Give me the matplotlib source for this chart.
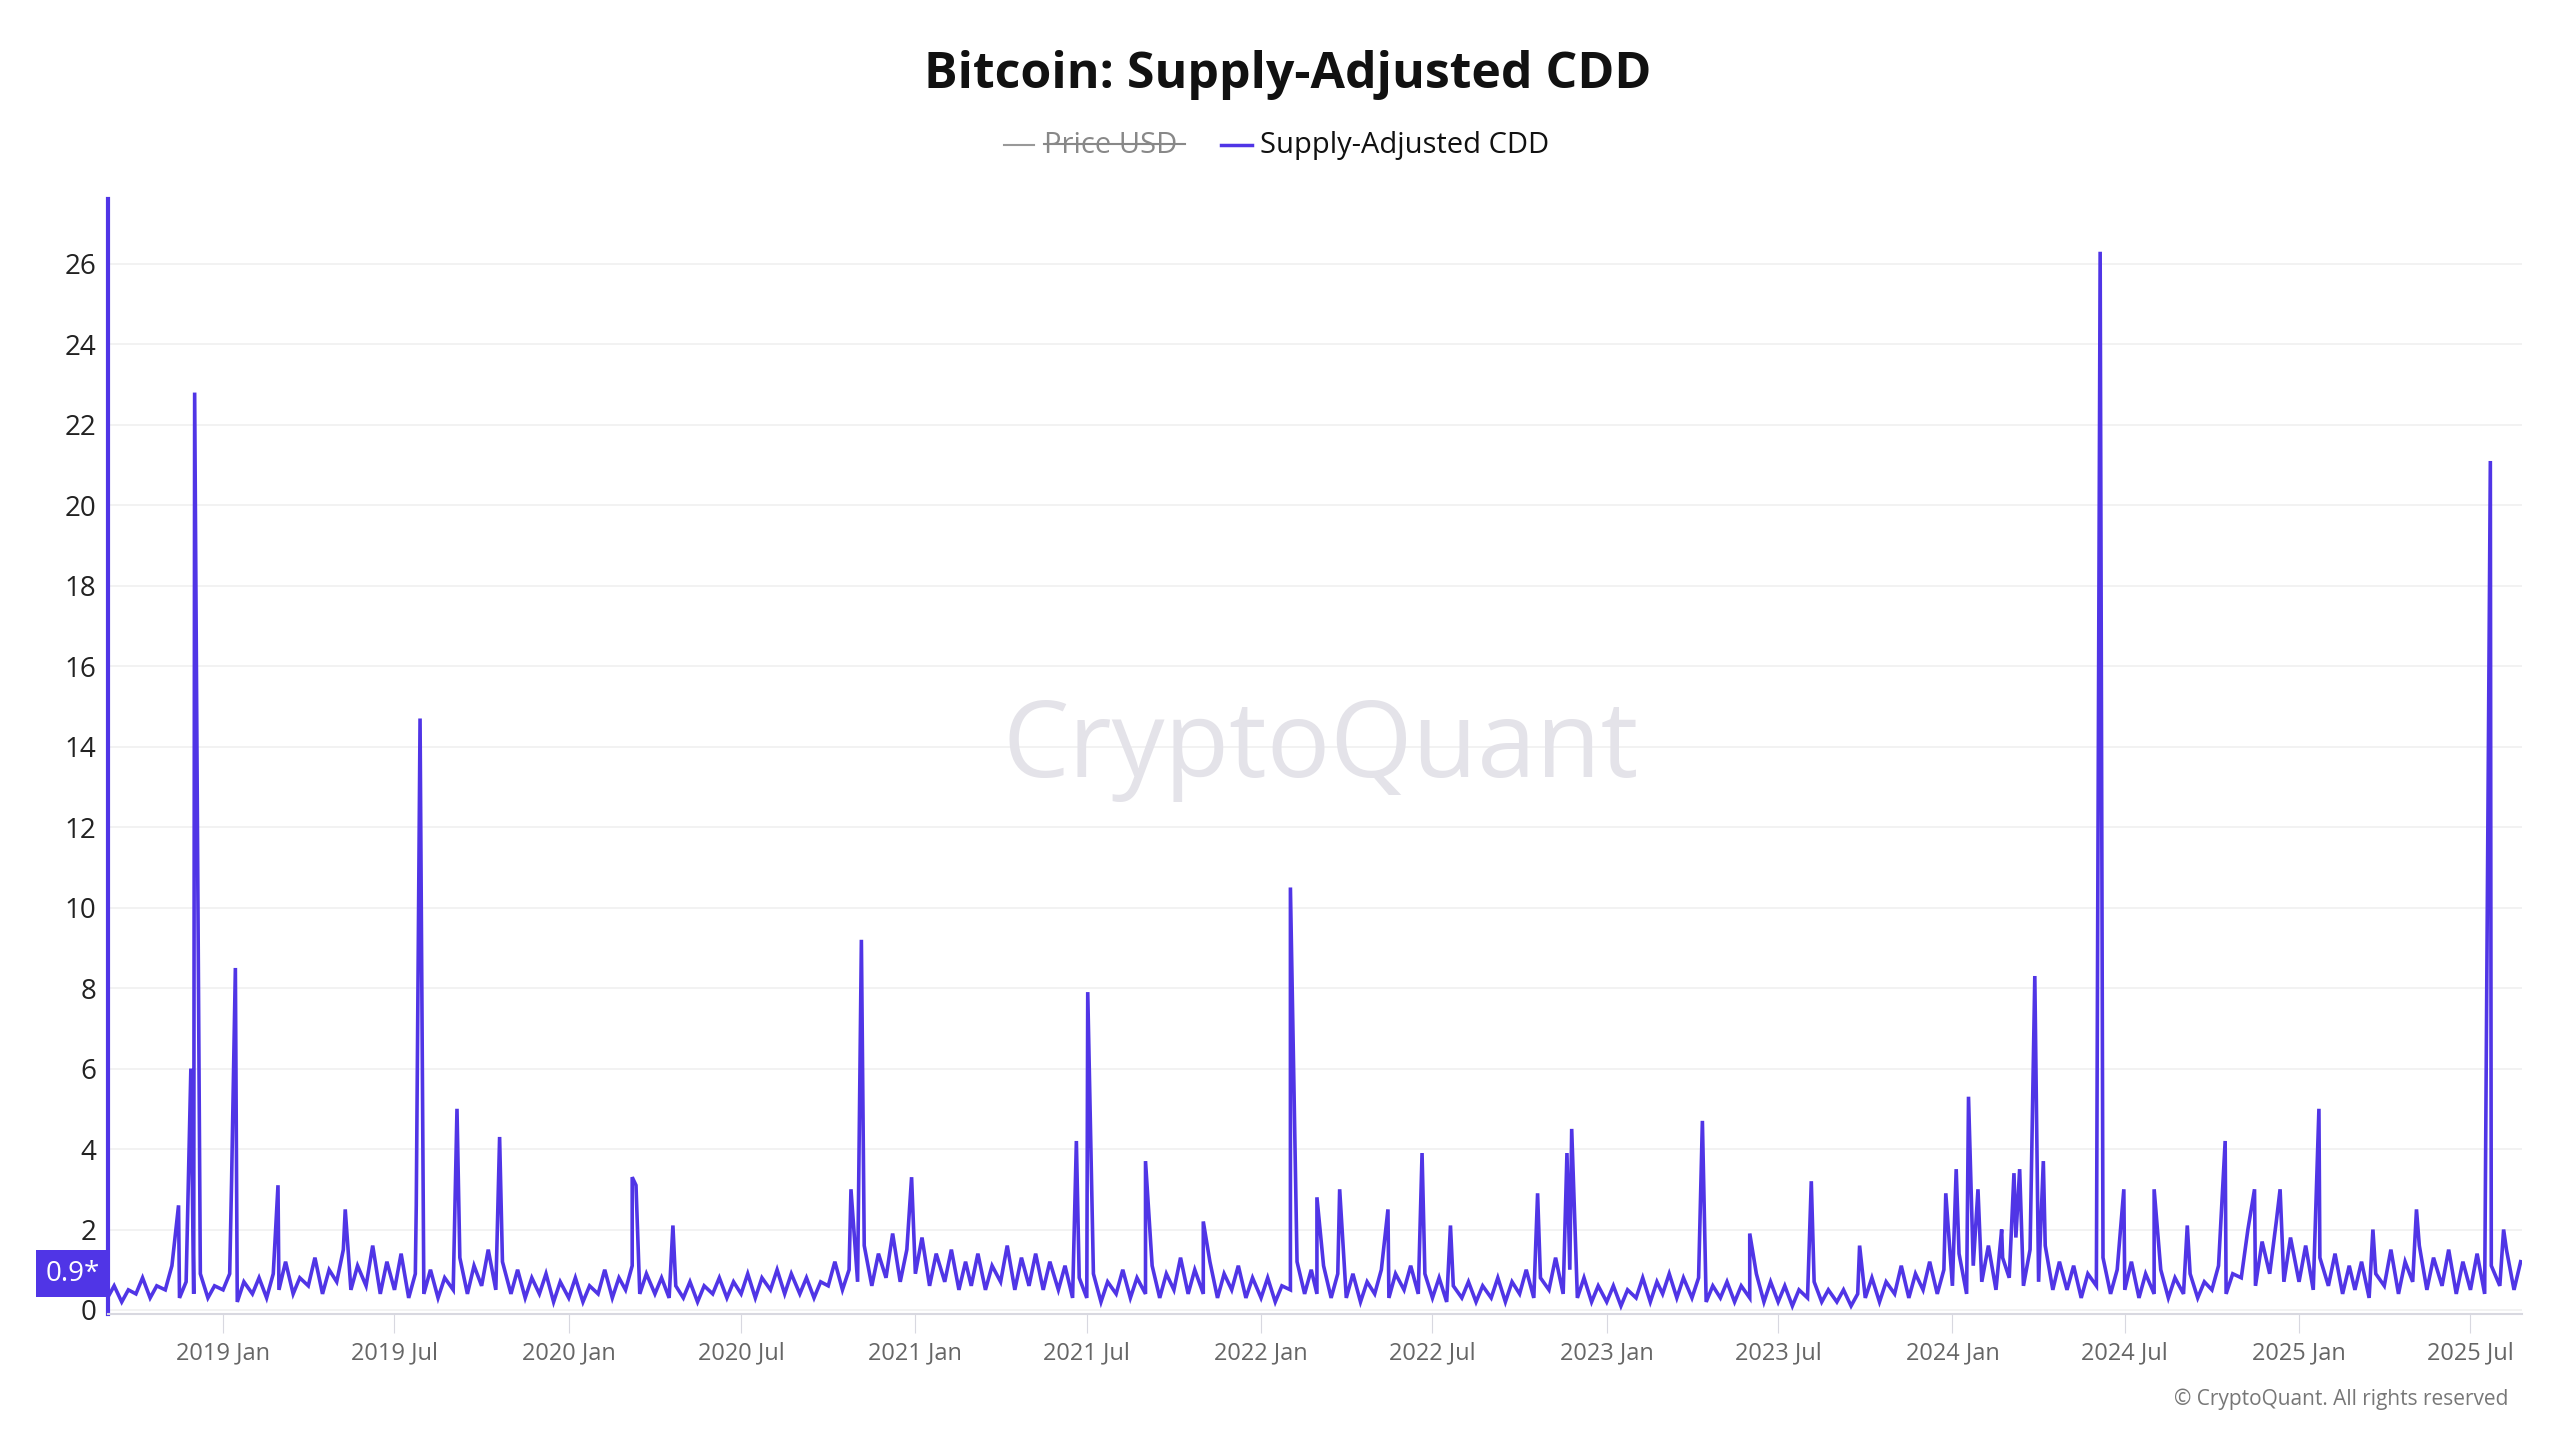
import matplotlib
matplotlib.use("Agg")
import matplotlib.pyplot as plt
import matplotlib.dates as mdates
import numpy as np
import datetime as dt

plt.rcParams['font.family'] = ['Open Sans', 'DejaVu Sans']

# Baseline: 4 readings per month (days 1, 8, 16, 23), Sep 2018 .. Aug 2025
start_year, start_month = 2018, 9
baseline = [
 0.3,0.6,0.2,0.5, 0.4,0.8,0.3,0.6, 0.5,1.1,0.3,0.7, 0.4,0.9,0.3,0.6,   # 2018 Sep-Dec
 0.5,0.9,0.2,0.7, 0.4,0.8,0.3,0.9, 0.5,1.2,0.4,0.8, 0.6,1.3,0.4,1.0,   # 2019 Jan-Apr
 0.7,1.5,0.5,1.1, 0.6,1.6,0.4,1.2, 0.5,1.4,0.3,0.9, 0.4,1.0,0.3,0.8,   # 2019 May-Aug
 0.5,1.3,0.4,1.1, 0.6,1.5,0.5,1.2, 0.4,1.0,0.3,0.8, 0.4,0.9,0.2,0.7,   # 2019 Sep-Dec
 0.3,0.8,0.2,0.6, 0.4,1.0,0.3,0.8, 0.5,1.1,0.4,0.9, 0.4,0.8,0.3,0.6,   # 2020 Jan-Apr
 0.3,0.7,0.2,0.6, 0.4,0.8,0.3,0.7, 0.4,0.9,0.3,0.8, 0.5,1.0,0.4,0.9,   # 2020 May-Aug
 0.4,0.8,0.3,0.7, 0.6,1.2,0.5,1.0, 0.7,1.6,0.6,1.4, 0.8,1.9,0.7,1.5,   # 2020 Sep-Dec
 0.9,1.8,0.6,1.4, 0.7,1.5,0.5,1.2, 0.6,1.4,0.5,1.1, 0.7,1.6,0.5,1.3,   # 2021 Jan-Apr
 0.6,1.4,0.5,1.2, 0.5,1.1,0.3,0.8, 0.3,0.9,0.2,0.7, 0.4,1.0,0.3,0.8,   # 2021 May-Aug
 0.4,1.1,0.3,0.9, 0.5,1.3,0.4,1.0, 0.4,1.2,0.3,0.9, 0.5,1.1,0.3,0.8,   # 2021 Sep-Dec
 0.3,0.8,0.2,0.6, 0.5,1.2,0.4,1.0, 0.4,1.1,0.3,0.9, 0.3,0.9,0.2,0.7,   # 2022 Jan-Apr
 0.4,1.0,0.3,0.9, 0.5,1.1,0.4,0.9, 0.3,0.8,0.2,0.6, 0.3,0.7,0.2,0.6,   # 2022 May-Aug
 0.3,0.8,0.2,0.7, 0.4,1.0,0.3,0.8, 0.5,1.3,0.4,1.0, 0.3,0.8,0.2,0.6,   # 2022 Sep-Dec
 0.2,0.6,0.1,0.5, 0.3,0.8,0.2,0.7, 0.4,0.9,0.3,0.8, 0.3,0.8,0.2,0.6,   # 2023 Jan-Apr
 0.3,0.7,0.2,0.6, 0.3,0.9,0.2,0.7, 0.2,0.6,0.1,0.5, 0.3,0.7,0.2,0.5,   # 2023 May-Aug
 0.2,0.5,0.1,0.4, 0.3,0.8,0.2,0.7, 0.4,1.1,0.3,0.9, 0.5,1.2,0.4,1.0,   # 2023 Sep-Dec
 0.6,1.4,0.4,1.1, 0.7,1.6,0.5,1.3, 0.8,1.8,0.6,1.5, 0.7,1.6,0.5,1.2,   # 2024 Jan-Apr
 0.5,1.1,0.3,0.9, 0.6,1.3,0.4,1.0, 0.5,1.2,0.3,0.9, 0.4,1.0,0.3,0.8,   # 2024 May-Aug
 0.4,0.9,0.3,0.7, 0.5,1.1,0.4,0.9, 0.8,2.0,0.6,1.7, 0.9,2.2,0.7,1.8,   # 2024 Sep-Dec
 0.7,1.6,0.5,1.3, 0.6,1.4,0.4,1.1, 0.5,1.2,0.3,0.9, 0.6,1.5,0.4,1.2,   # 2025 Jan-Apr
 0.7,1.6,0.5,1.3, 0.6,1.5,0.4,1.2, 0.5,1.4,0.4,1.1, 0.6,1.5,0.5,1.2,   # 2025 May-Aug
]
baseline_days = [1, 8, 16, 23]

spike_dates = ["2018-11-15","2018-11-28","2018-12-02","2019-01-10","2019-01-14","2019-02-28",
    "2019-05-10","2019-07-24","2019-07-28","2019-09-05","2019-10-20","2020-03-08","2020-03-12",
    "2020-04-20","2020-10-25","2020-11-05","2020-12-28","2021-06-20","2021-07-02","2021-09-01",
    "2021-11-01","2022-02-01","2022-03-01","2022-03-25","2022-05-15","2022-06-20","2022-07-20",
    "2022-10-20","2022-11-20","2022-11-25","2023-04-12","2023-06-01","2023-08-05","2023-09-25",
    "2023-12-25","2024-01-05","2024-01-18","2024-01-28","2024-02-22","2024-03-06","2024-03-12",
    "2024-03-28","2024-04-06","2024-06-05","2024-06-30","2024-08-01","2024-09-05","2024-10-15",
    "2024-11-15","2024-12-12","2025-01-22","2025-03-20","2025-05-05","2025-07-22","2025-08-05"]
spike_values = [2.6,6.0,22.8,3.2,8.5,3.1,2.5,2.6,14.7,5.0,4.3,3.3,3.1,2.1,3.0,9.2,3.3,4.2,7.9,3.7,
    2.2,10.5,2.8,3.0,2.5,3.9,2.1,2.9,3.9,4.5,4.7,1.9,3.2,1.6,2.9,3.5,5.3,3.0,2.0,3.4,3.5,8.3,3.7,
    26.3,3.0,3.0,2.1,4.2,3.0,3.0,5.0,2.0,2.5,21.1,2.0]

xtick_labels = ["2019 Jan","2019 Jul","2020 Jan","2020 Jul","2021 Jan","2021 Jul","2022 Jan",
                "2022 Jul","2023 Jan","2023 Jul","2024 Jan","2024 Jul","2025 Jan","2025 Jul"]
yticks = list(range(0, 27, 2))
last_value = 0.9

# build series
pts = []
y, m = start_year, start_month
for i in range(0, len(baseline), 4):
    for d, v in zip(baseline_days, baseline[i:i+4]):
        pts.append((dt.date(y, m, d), v))
    m += 1
    if m > 12:
        m = 1; y += 1
for s, v in zip(spike_dates, spike_values):
    pts.append((dt.date.fromisoformat(s), v))
pts.sort()
dates = [p[0] for p in pts]
vals = [p[1] for p in pts]

purple = "#5035e6"
fig = plt.figure(figsize=(25.6, 14.4), dpi=100)
ax = fig.add_axes([0.042, 0.0875, 0.943, 0.774])
ax.plot(dates, vals, color=purple, lw=2.6, solid_joinstyle='miter')
ax.set_xlim(dt.date(2018, 9, 1), dt.date(2025, 8, 24))
ax.set_ylim(-0.1, 27.6)
ax.set_yticks(yticks)
ax.tick_params(axis='y', length=0, labelsize=20, labelcolor='#222222', pad=8)
ax.grid(axis='y', color='#f0f0f0', lw=1.2)
ax.set_axisbelow(True)

xt = [dt.date(2019 + k // 2, 1 if k % 2 == 0 else 7, 1) for k in range(len(xtick_labels))]
ax.set_xticks(xt)
ax.set_xticklabels(xtick_labels)
ax.tick_params(axis='x', length=14, color='#d8d8e0', labelsize=17, labelcolor='#666666', pad=6)
for s in ['top', 'right']:
    ax.spines[s].set_visible(False)
ax.spines['bottom'].set_color('#d8d8e0')
ax.spines['bottom'].set_linewidth(1.5)
ax.spines['left'].set_color(purple)
ax.spines['left'].set_linewidth(3)

ax.text(-0.003, last_value, f"{last_value}*", transform=ax.get_yaxis_transform(), ha='right', va='center',
        fontsize=20, color='white',
        bbox=dict(boxstyle='square,pad=0.35', fc=purple, ec='none'))

fig.text(0.503, 0.948, "Bitcoin: Supply-Adjusted CDD", ha='center', va='center',
         fontsize=36, fontweight='bold', color='#111111')
# legend
fig.add_artist(plt.Line2D([0.392, 0.404], [0.899, 0.899], color='#999999', lw=1.5))
t = fig.text(0.408, 0.899, "Price USD", ha='left', va='center', fontsize=21, color='#888888')
fig.add_artist(plt.Line2D([0.408, 0.463], [0.900, 0.900], color='#888888', lw=1.5))
fig.add_artist(plt.Line2D([0.477, 0.489], [0.899, 0.899], color=purple, lw=2.5))
fig.text(0.492, 0.899, "Supply-Adjusted CDD", ha='left', va='center', fontsize=21, color='#111111')

fig.text(0.516, 0.48, "CryptoQuant", ha='center', va='center', fontsize=76, color='#e4e3e9',
         fontweight='normal', zorder=0)
fig.text(0.98, 0.028, "© CryptoQuant. All rights reserved", ha='right', va='center',
         fontsize=15, color='#777777')

fig.savefig("out.png", dpi=100)
